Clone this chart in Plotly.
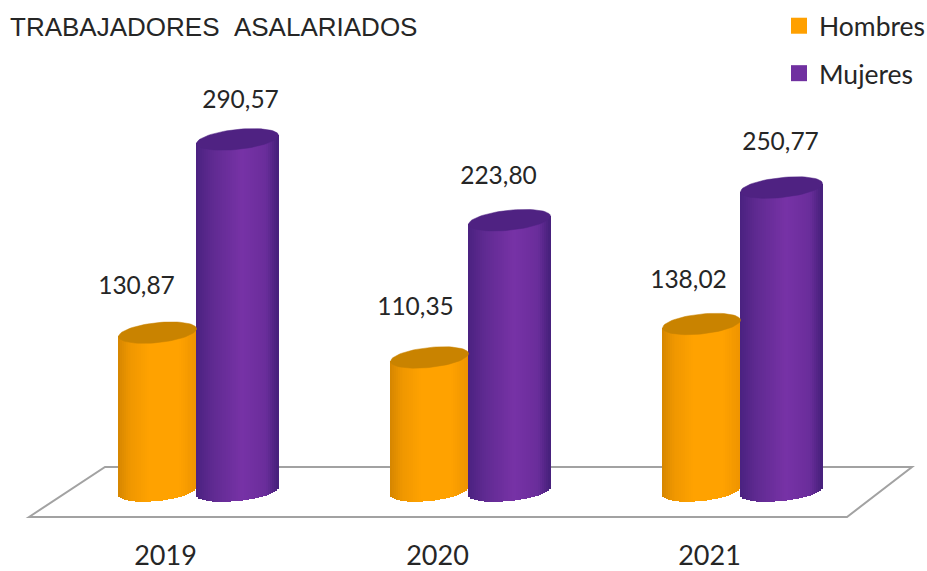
import math
import plotly.graph_objects as go

# ---- data ----
years = ["2019", "2020", "2021"]
hombres = [130.87, 110.35, 138.02]
mujeres = [290.57, 223.80, 250.77]
title_text = "TRABAJADORES\u00a0\u00a0ASALARIADOS"

# ---- geometry and style (pixel constants are page pixels) ----
W, H = 927, 571
PLOT_BOTTOM = 530
BASE_PX = 491
PX_PER_UNIT = 1.21
GROUP_0_PX = 196.5
GROUP_STEP_PX = 272.0
SLOPE = 0.10
CAP_B_PX = 10.0
N_STRIPS = 41
FONT = "Lato, 'Open Sans', sans-serif"
TEXT_COLOR = "#262626"

ORANGE = dict(name="Hombres", swatch="#FFA000", cap="#C98300",
              stops=[(-1, "#D58600"), (-0.72, "#EE9600"), (-0.2, "#FFA200"),
                     (0.55, "#FFA200"), (1, "#EE9400")],
              offset_px=-39.0, width_px=78.0, label_dx=(-21, -14, -13), label_dy=(45, 49, 42))
PURPLE = dict(name="Mujeres", swatch="#7030A0", cap="#4F2282",
              stops=[(-1, "#4A2180"), (-0.6, "#5F2A91"), (0.12, "#7732A6"),
                     (0.7, "#6A2D9B"), (1, "#45207A")],
              offset_px=41.0, width_px=82.0, label_dx=(3, -11, -1), label_dy=(38, 42, 44))


def x_of_px(px):
    return (px - GROUP_0_PX) / GROUP_STEP_PX


def y_of_px(py):
    return (BASE_PX - py) / PX_PER_UNIT


def hex_rgb(c):
    return [int(c[i:i + 2], 16) for i in (1, 3, 5)]


def shade(stops, t):
    for (t0, c0), (t1, c1) in zip(stops, stops[1:]):
        if t0 <= t <= t1:
            f = (t - t0) / (t1 - t0)
            a, b = hex_rgb(c0), hex_rgb(c1)
            return "rgb(%d,%d,%d)" % tuple(round(p + (q - p) * f) for p, q in zip(a, b))
    return stops[-1][1]


def add_series(fig, values, style):
    half = style["width_px"] / 2
    sx, sbase, sh, scol = [], [], [], []
    cap_x, cap_y = [], []
    for g, v in enumerate(values):
        xc = GROUP_0_PX + g * GROUP_STEP_PX + style["offset_px"]
        for k in range(N_STRIPS):
            u = -1 + 2 * (k + 0.5) / N_STRIPS
            dx = u * half
            tilt = SLOPE * dx / PX_PER_UNIT
            bottom = tilt - CAP_B_PX * math.sqrt(1 - u * u) / PX_PER_UNIT
            top = v + tilt
            sx.append(x_of_px(xc + dx))
            sbase.append(bottom)
            sh.append(top - bottom)
            scol.append(shade(style["stops"], u))
        for a in range(73):
            th = 2 * math.pi * a / 72
            dx = half * math.cos(th)
            cap_x.append(x_of_px(xc + dx))
            cap_y.append(v + SLOPE * dx / PX_PER_UNIT + CAP_B_PX * math.sin(th) / PX_PER_UNIT)
        cap_x.append(None)
        cap_y.append(None)
    fig.add_bar(x=sx, y=sh, base=sbase, width=(style["width_px"] / N_STRIPS + 0.8) / GROUP_STEP_PX,
                marker=dict(color=scol, line=dict(width=0)), showlegend=False, hoverinfo="skip")
    fig.add_scatter(x=cap_x, y=cap_y,
                    mode="lines", fill="toself", fillcolor=style["cap"],
                    line=dict(color=style["cap"], width=0.5), showlegend=False, hoverinfo="skip")
    fig.add_scatter(
        x=[x_of_px(GROUP_0_PX + g * GROUP_STEP_PX + style["offset_px"] + style["label_dx"][g])
           for g in range(len(values))],
        y=[v + style["label_dy"][g] / PX_PER_UNIT for g, v in enumerate(values)],
        mode="text", text=[f"{v:.2f}".replace(".", ",") for v in values],
        textposition="middle center", textfont=dict(family=FONT, size=24.5, color=TEXT_COLOR),
        showlegend=False, hoverinfo="skip")
    fig.add_scatter(x=[None], y=[None], mode="markers", name=style["name"], legendgroup=style["name"],
                    marker=dict(symbol="square", size=16, color=style["swatch"]))


fig = go.Figure()
add_series(fig, hombres, ORANGE)
add_series(fig, mujeres, PURPLE)

floor_px = [(29, 517), (105, 467), (912, 467), (847, 517)]
path = "M " + " L ".join(f"{x_of_px(a)},{y_of_px(b)}" for a, b in floor_px) + " Z"
fig.add_shape(type="path", path=path, xref="x", yref="y", layer="below",
              line=dict(color="#A2A2A2", width=2), fillcolor="white")

fig.update_layout(
    width=W, height=H, autosize=False, template=None,
    paper_bgcolor="white", plot_bgcolor="white", barmode="overlay", bargap=0,
    margin=dict(l=0, r=0, t=0, b=H - PLOT_BOTTOM, pad=0, autoexpand=False),
    title=dict(text=title_text, x=10 / W, xanchor="left", xref="paper",
               y=1 - 27 / H, yanchor="middle", yref="container",
               font=dict(family="Liberation Sans", size=26, color=TEXT_COLOR)),
    legend=dict(x=779 / W, xanchor="left", y=1.0 - 2 / PLOT_BOTTOM, yanchor="top",
                yref="paper", tracegroupgap=10, entrywidth=107, entrywidthmode="pixels",
                bgcolor="rgba(0,0,0,0)", font=dict(family=FONT, size=26.5, color=TEXT_COLOR)),
    showlegend=True,
    xaxis=dict(range=[x_of_px(0), x_of_px(W)], showgrid=False, zeroline=False, showline=False,
               tickmode="array", tickvals=[i - 31 / GROUP_STEP_PX for i in range(len(years))],
               ticktext=years, ticks="outside", ticklen=2, tickcolor="rgba(0,0,0,0)",
               tickfont=dict(family=FONT, size=27, color=TEXT_COLOR), fixedrange=True),
    yaxis=dict(range=[y_of_px(PLOT_BOTTOM), y_of_px(0)], visible=False, fixedrange=True),
)
fig.write_html("out.html", config={"displayModeBar": False},
               post_script="document.body.style.margin='0';document.documentElement.style.overflow='hidden';")
